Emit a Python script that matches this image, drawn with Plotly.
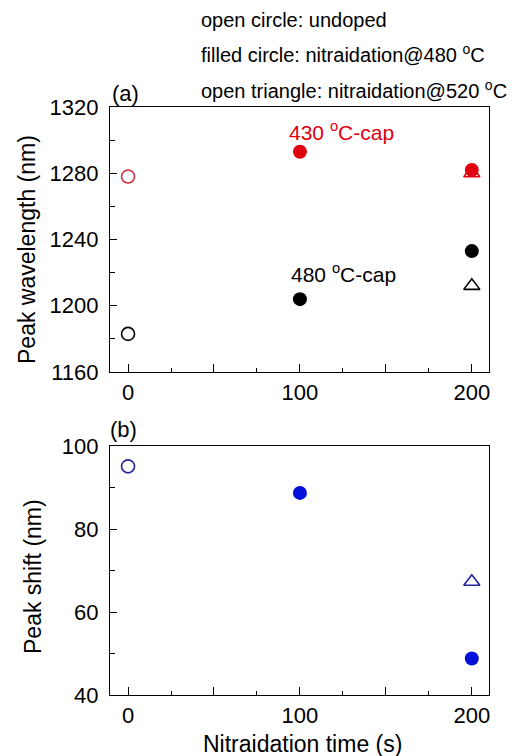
import plotly.graph_objects as go

# ---- data ----
undoped_time = [0]
n480_time = [100, 200]
n520_time = [200]

# (a) Peak wavelength (nm)
cap430_undoped = [1278]
cap430_n480 = [1293, 1282]
cap430_n520 = [1280]
cap480_undoped = [1183]
cap480_n480 = [1204, 1233]
cap480_n520 = [1212]

# (b) Peak shift (nm)
shift_undoped = [95.1]
shift_n480 = [88.7, 48.8]
shift_n520 = [67.3]

x_label_vals = [0, 100, 200]
x_unlabeled_major = [50, 150]
ya_tickvals = [1160, 1200, 1240, 1280, 1320]
yb_tickvals = [40, 60, 80, 100]

RED = "#e0000f"
RED_OPEN = "#d42a3c"
BLACK = "#000000"
BLUE = "#0010d8"
BLUE_OPEN = "#23239a"

FONT = "Liberation Sans, Arial, sans-serif"
XRANGE = [-10.5, 210]

fig = go.Figure()

def add(x, y, symbol, color, xa, ya, filled, size=14):
    if filled:
        marker = dict(symbol=symbol, size=size, color=color, line=dict(width=0))
    else:
        marker = dict(symbol=symbol + "-open", size=size - 1, color=color, line=dict(width=1.6, color=color))
    fig.add_trace(go.Scatter(x=x, y=y, mode="markers", marker=marker,
                             xaxis=xa, yaxis=ya, showlegend=False, cliponaxis=False))

add(undoped_time, cap430_undoped, "circle", RED_OPEN, "x", "y", False)
add(n480_time, cap430_n480, "circle", RED, "x", "y", True)
add(n520_time, cap430_n520, "triangle-up", RED, "x", "y", False, 15)
add(undoped_time, cap480_undoped, "circle", BLACK, "x", "y", False)
add(n480_time, cap480_n480, "circle", BLACK, "x", "y", True)
add(n520_time, cap480_n520, "triangle-up", BLACK, "x", "y", False, 15)

add(undoped_time, shift_undoped, "circle", BLUE_OPEN, "x2", "y2", False)
add(n480_time, shift_n480, "circle", BLUE, "x2", "y2", True)
add(n520_time, shift_n520, "triangle-up", BLUE_OPEN, "x2", "y2", False, 15)

# invisible traces so the overlay axes (unlabelled major ticks) get drawn
fig.add_trace(go.Scatter(x=x_unlabeled_major, y=[None, None], xaxis="x3", yaxis="y",
                         mode="markers", showlegend=False, hoverinfo="skip"))
fig.add_trace(go.Scatter(x=x_unlabeled_major, y=[None, None], xaxis="x4", yaxis="y2",
                         mode="markers", showlegend=False, hoverinfo="skip"))

L, R, T, B = 110, 489, 107, 695
W, H = 530, 756
def px(x):
    return (x - L) / (R - L)
def py(y):
    return (B - y) / (B - T)

xaxis_common = dict(range=XRANGE, tickvals=x_label_vals,
                    ticks="inside", ticklen=8, tickwidth=1, tickcolor="black",
                    minor=dict(dtick=25, tick0=0, ticks="inside", ticklen=4, tickcolor="black"),
                    showline=True, linecolor="black", linewidth=1.3, mirror=True,
                    showgrid=False, zeroline=False,
                    tickfont=dict(family=FONT, size=22, color="black"))
overlay_common = dict(range=XRANGE, tickvals=x_unlabeled_major, showticklabels=False,
                      ticks="inside", ticklen=8, tickwidth=1, tickcolor="black",
                      showline=False, showgrid=False, zeroline=False, side="bottom")
yaxis_common = dict(ticks="inside", ticklen=7, tickwidth=1, tickcolor="black",
                    showline=True, linecolor="black", linewidth=1.3, mirror=True,
                    showgrid=False, zeroline=False, ticklabelstandoff=6,
                    tickfont=dict(family=FONT, size=22, color="black"))

fig.update_layout(
    width=W, height=H,
    margin=dict(l=L, r=W - R, t=T, b=H - B),
    paper_bgcolor="white", plot_bgcolor="white",
    xaxis=dict(domain=[0, 1], anchor="y", **xaxis_common),
    yaxis=dict(domain=[py(372), 1], anchor="x", range=[1160, 1320], tickvals=ya_tickvals,
               minor=dict(dtick=20, tick0=1160, ticks="inside", ticklen=5, tickcolor="black"),
               **yaxis_common),
    xaxis2=dict(domain=[0, 1], anchor="y2", **xaxis_common),
    yaxis2=dict(domain=[0, py(446)], anchor="x2", range=[40, 100], tickvals=yb_tickvals,
                minor=dict(dtick=10, tick0=40, ticks="inside", ticklen=5, tickcolor="black"),
                **yaxis_common),
    xaxis3=dict(overlaying="x", anchor="y", **overlay_common),
    xaxis4=dict(overlaying="x2", anchor="y2", **overlay_common),
)

def ann(text, x, y, size, color="black", angle=0, xanchor="center"):
    fig.add_annotation(text=text, x=px(x), y=py(y), xref="paper", yref="paper",
                       showarrow=False, textangle=angle, xanchor=xanchor, yanchor="middle",
                       font=dict(family=FONT, size=size, color=color))

ann("open circle: undoped", 199, 20, 20, xanchor="left")
ann("filled circle: nitraidation@480 <sup>o</sup>C", 199, 53, 20, xanchor="left")
ann("open triangle: nitraidation@520 <sup>o</sup>C", 199, 89, 20, xanchor="left")
ann("(a)", 110, 93, 22, xanchor="left")
ann("(b)", 108, 429, 22, xanchor="left")
ann("430 <sup>o</sup>C-cap", 287, 131, 21, color=RED, xanchor="left")
ann("480 <sup>o</sup>C-cap", 289, 273, 21, xanchor="left")
ann("Peak wavelength (nm)", 27, 250, 23, angle=-90)
ann("Peak shift (nm)", 33, 577, 23, angle=-90)
ann("Nitraidation time (s)", 302, 744, 23)

fig.write_html("out.html")
